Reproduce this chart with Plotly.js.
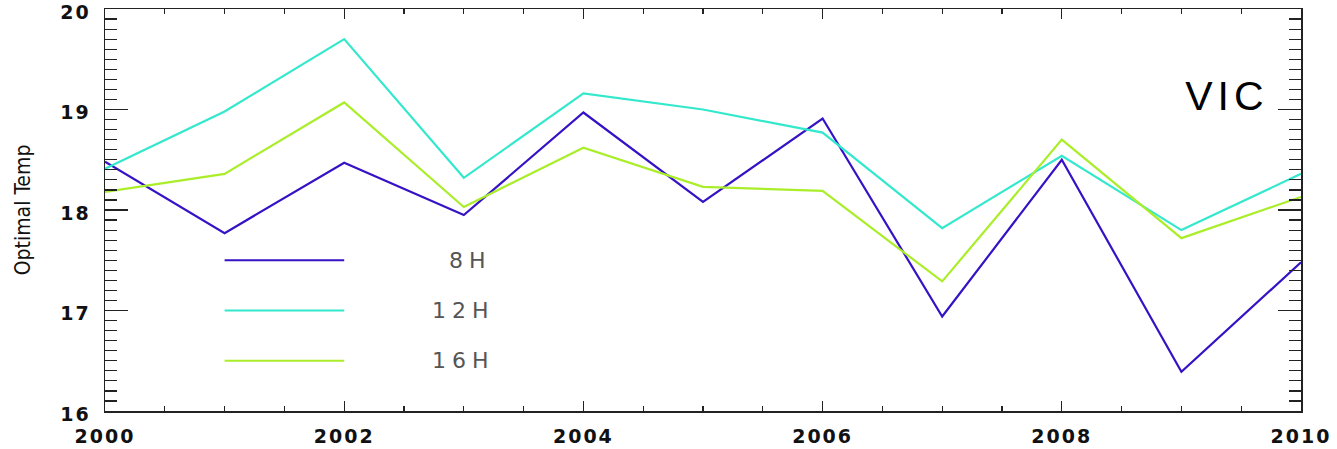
<!DOCTYPE html>
<html>
<head>
<meta charset="utf-8">
<script src="https://cdn.plot.ly/plotly-3.0.1.min.js"></script>
<style>
  html, body { margin: 0; padding: 0; background: #fff; }
  #chart { width: 1337px; height: 449px; }
  .xtick text, .ytick text { letter-spacing: 2px; }
  g.annotation text { letter-spacing: 6px; }
  .gtitle { letter-spacing: 5px; }
</style>
</head>
<body>
<div id="chart"></div>
<script>
// Optimal temperature by year for three day-length settings (VIC)
const years = [2000, 2001, 2002, 2003, 2004, 2005, 2006, 2007, 2008, 2009, 2010];
const temp8H  = [18.48, 17.77, 18.47, 17.95, 18.97, 18.08, 18.91, 16.94, 18.50, 16.39, 17.48];
const temp12H = [18.41, 18.98, 19.70, 18.32, 19.16, 19.00, 18.77, 17.82, 18.54, 17.80, 18.36];
const temp16H = [18.18, 18.36, 19.07, 18.03, 18.62, 18.23, 18.19, 17.29, 18.70, 17.72, 18.13];

const seriesNames  = ['8H', '12H', '16H'];
const seriesValues = [temp8H, temp12H, temp16H];
const seriesColors = ['#3612c6', '#33e8cc', '#aaee2a'];

const xTickVals = [2000, 2002, 2004, 2006, 2008, 2010];
const yTickVals = [16, 17, 18, 19, 20];

// In-plot key: sample line spans and label anchor, in data units
const key = { x0: 2001, x1: 2002, labelX: 2003.2, rows: [17.5, 17.0, 16.5] };

const traces = seriesNames.map((name, i) => ({
  type: 'scatter',
  mode: 'lines',
  x: years,
  y: seriesValues[i],
  name: name,
  line: { color: seriesColors[i], width: 2.2 },
  showlegend: false,
  hoverinfo: 'x+y+name'
}));

const shapes = seriesNames.map((name, i) => ({
  type: 'line', xref: 'x', yref: 'y',
  x0: key.x0, x1: key.x1, y0: key.rows[i], y1: key.rows[i],
  line: { color: seriesColors[i], width: 2.2 }
}));

const annotations = seriesNames.map((name, i) => ({
  xref: 'x', yref: 'y',
  x: key.labelX, y: key.rows[i],
  xanchor: 'right', yanchor: 'middle',
  text: name, showarrow: false,
  font: { family: 'DejaVu Sans', size: 22, color: '#555555' }
}));

const axisFont = { family: 'DejaVu Sans', size: 19, color: '#111111', weight: 'bold' };

const layout = {
  width: 1337, height: 449,
  margin: { l: 105, r: 36, t: 9, b: 38, pad: 0 },
  paper_bgcolor: '#ffffff', plot_bgcolor: '#ffffff',
  showlegend: false,
  title: {
    text: 'VIC',
    xref: 'paper', yref: 'paper',
    x: 0.938, y: 0.785, xanchor: 'center', yanchor: 'middle',
    font: { family: 'Liberation Sans', size: 41, color: '#000000' }
  },
  xaxis: {
    range: [2000, 2010],
    tickvals: xTickVals,
    ticktext: xTickVals.map(String),
    ticks: 'inside', ticklen: 10, tickwidth: 1.2, tickcolor: '#222',
    minor: { dtick: 0.5, tick0: 2000, ticks: 'inside', ticklen: 5, tickwidth: 1.2, tickcolor: '#222' },
    showline: true, linecolor: '#222', linewidth: 1.5, mirror: 'ticks',
    showgrid: false, zeroline: false,
    tickfont: axisFont,
    ticklabelstandoff: 8,
    ticklabeloverflow: 'allow'
  },
  yaxis: {
    range: [16, 20],
    tickvals: yTickVals,
    ticktext: yTickVals.map(String),
    ticks: 'inside', ticklen: 23, tickwidth: 1.2, tickcolor: '#222',
    minor: { dtick: 0.1, tick0: 16, ticks: 'inside', ticklen: 12, tickwidth: 1.2, tickcolor: '#222' },
    showline: true, linecolor: '#222', linewidth: 1.5, mirror: 'ticks',
    showgrid: false, zeroline: false,
    tickfont: axisFont,
    ticklabelstandoff: 9,
    ticklabelshift: 3,
    ticklabeloverflow: 'allow',
    title: {
      text: 'Optimal Temp',
      standoff: 24,
      font: { family: 'DejaVu Sans Condensed, Liberation Sans Narrow, Arial Narrow, sans-serif', size: 21, color: '#111111' }
    },
    automargin: false
  },
  shapes: shapes,
  annotations: annotations
};

Plotly.newPlot('chart', traces, layout, { displayModeBar: false, staticPlot: true });
</script>
</body>
</html>
